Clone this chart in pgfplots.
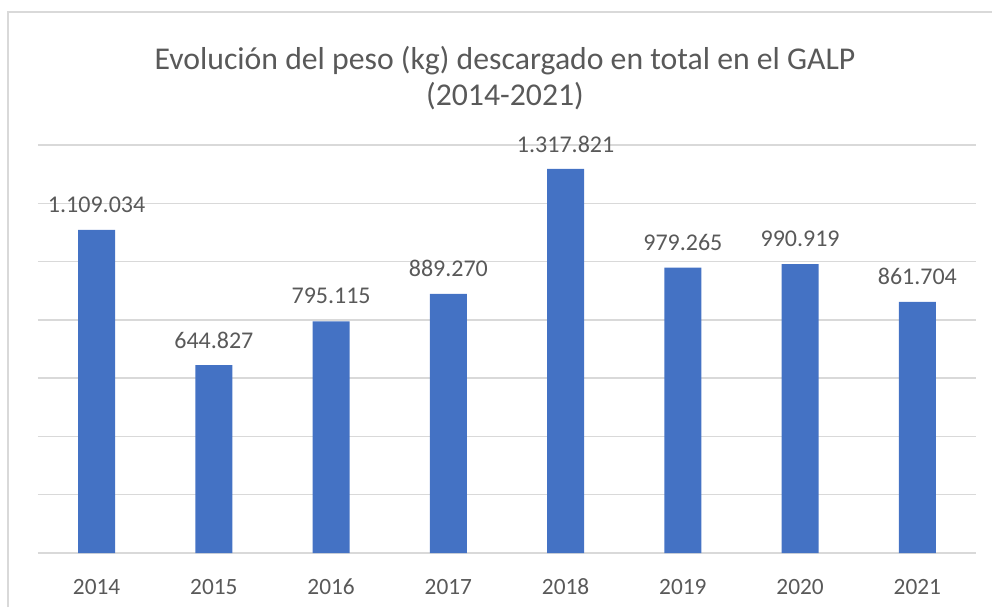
\documentclass[border=0pt]{standalone}
\usepackage{pgfplots}
\pgfplotsset{compat=1.18}
\usepackage{pgfplotstable}
\usepackage{fontspec}
\setmainfont{Carlito}
\definecolor{barblue}{RGB}{68,114,196}
\definecolor{txtgray}{RGB}{89,89,89}
\definecolor{gridgray}{RGB}{217,217,217}
\pgfplotstableread{
x y lab
0 1109034 1.109.034
1 644827 644.827
2 795115 795.115
3 889270 889.270
4 1317821 1.317.821
5 979265 979.265
6 990919 990.919
7 861704 861.704
}\galpdata
\begin{document}
\begin{tikzpicture}
\useasboundingbox (0pt,0pt) rectangle (744pt,455.25pt);
\draw[gridgray, line width=1.5pt] (6pt,0pt) -- (6pt,446.25pt) -- (744pt,446.25pt);
\node[text=txtgray, font=\fontsize{23.8}{27}\selectfont, align=center] at (378.75pt,396.75pt) {Evolución del peso (kg) descargado en total en el GALP\\(2014-2021)};
\begin{axis}[
  at={(28.5pt,40.5pt)}, anchor=south west,
  width=703.5pt, height=306pt, scale only axis,
  xmin=-0.5, xmax=7.5, ymin=0, ymax=1400000,
  xtick=data, xticklabels={2014,2015,2016,2017,2018,2019,2020,2021},
  ytick={0,200000,...,1400000}, yticklabels={},
  scaled y ticks=false,
  ymajorgrids, major grid style={gridgray, line width=1.1pt},
  axis line style={draw=none}, tick style={draw=none},
  ticklabel style={text=txtgray, font=\fontsize{17.5}{20}\selectfont},
  /pgf/number format/assume math mode=true,
  xticklabel style={anchor=center, text height=12pt, text depth=0pt, yshift=-24.75pt},
  clip=false,
]
\addplot[ybar, bar width=0.316, fill=barblue, draw=none,
  point meta=explicit symbolic,
  nodes near coords,
  every node near coord/.append style={text=txtgray, font=\fontsize{18}{20}\selectfont, anchor=center, yshift=18.75pt},
] table[x=x, y=y, meta=lab] {\galpdata};
\end{axis}
\end{tikzpicture}
\end{document}
